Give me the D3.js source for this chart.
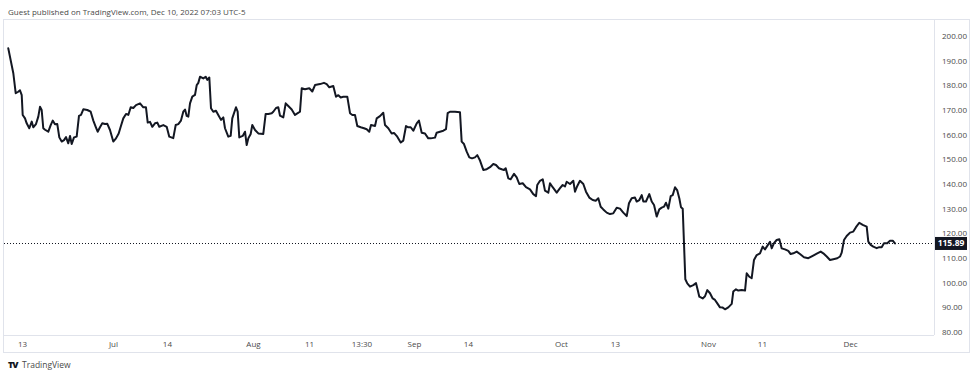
<!DOCTYPE html>
<html>
<head>
<meta charset="utf-8">
<script src="https://cdn.jsdelivr.net/npm/d3@7"></script>
<style>
  html, body { margin: 0; padding: 0; background: #ffffff; }
  svg { display: block; }
  text { font-family: "Open Sans", "Noto Sans", sans-serif; }
</style>
</head>
<body>
<script>
// ---- data (trading-day position since Jun 13, close) ----
const bar = [
  -1.96,-1.24,-0.9,-0.53,-0.29,-0.04,0.1,0.43,0.67,1.04,1.39,1.61,2.0,2.33,2.57,2.81,3.04,3.29,3.76,4.1,4.39,4.71,5.04,5.33,5.67,6.0,6.29,6.61,6.86,7.1,7.43,7.81,
  8.14,8.43,8.76,9.33,9.81,10.19,10.53,10.81,11.14,11.47,11.86,12.19,12.57,13.04,13.43,13.81,14.1,14.47,14.86,15.19,15.53,15.9,16.29,16.86,17.33,17.71,17.96,
  18.29,18.61,19.0,19.33,19.61,20.19,20.67,21.04,21.61,21.96,22.33,22.71,23.04,23.29,23.53,23.76,24.0,24.33,24.71,24.96,25.19,25.43,25.9,26.24,26.47,26.76,
  27.0,27.33,27.71,28.04,28.43,28.76,29.0,29.47,29.81,30.04,30.57,30.81,31.04,31.53,31.86,32.1,32.33,32.67,32.9,33.29,33.76,34.47,34.81,35.19,35.67,35.9,
  36.29,36.61,36.86,37.33,37.67,38.04,38.53,39.0,39.39,39.71,39.96,40.43,41.04,41.47,41.86,42.57,43.14,43.53,43.9,44.47,44.86,45.19,45.53,45.9,46.47,
  46.86,47.19,47.57,47.9,48.39,48.86,49.24,49.61,49.86,50.43,50.67,51.14,51.61,51.86,52.33,52.81,53.14,53.61,54.1,54.47,54.86,55.19,55.53,55.9,56.39,
  56.71,57.1,57.57,58.04,58.39,59.0,59.24,59.71,60.19,60.57,60.81,61.14,61.86,62.57,62.81,63.14,63.53,63.9,64.29,64.71,65.04,65.43,65.9,66.39,66.86,
  67.33,67.71,68.14,68.53,68.86,69.1,69.47,69.81,70.29,70.67,71.04,71.53,72.0,72.57,73.04,73.43,73.61,74.0,74.39,74.71,75.19,75.43,75.81,76.39,76.86,
  77.24,77.57,77.81,78.29,78.76,79.0,79.33,79.71,80.19,80.57,81.04,81.53,81.96,82.33,82.67,83.04,83.53,84.0,84.47,84.96,85.43,85.9,86.39,86.71,87.1,
  87.57,87.81,88.19,88.53,88.76,89.14,89.61,89.96,90.29,90.67,91.04,91.39,91.71,92.0,92.33,92.67,92.96,93.29,93.61,93.9,94.14,94.39,94.57,94.76,95.04,
  95.43,95.9,96.29,96.53,96.76,97.24,97.57,97.9,98.29,98.67,99.0,99.33,99.71,100.1,100.43,100.9,101.39,101.61,102.0,102.33,102.81,103.29,103.53,103.9,
  104.24,104.57,104.96,105.43,105.81,106.14,106.47,106.86,107.1,107.43,107.81,108.19,108.53,109.0,109.47,109.81,110.19,110.67,111.14,111.71,112.33,
  112.96,113.61,114.1,114.47,114.96,115.43,115.9,116.47,116.86,117.1,117.43,117.81,118.29,118.76,119.14,119.61,120.1,120.67,120.9,121.24,121.61,122.1,
  122.47,122.81,123.14,123.61,124.0,124.39,124.71
];
const close = [
  195,184.9,176.8,177.4,178,176,168,166.6,164.6,162.6,165.3,163,164.3,167.3,171.3,170,162.6,162,161.2,163.9,165.7,164.2,164.3,158.9,157.2,157.8,159,156.5,159.5,156.2,158.9,159.2,
  167.6,168,170.3,170,169.3,165.7,163.2,161.2,163,164.6,164.3,164.4,161.9,157.2,158.5,160.5,163.2,166.6,168.4,168,171.1,170.8,172,172.7,171.1,171.1,164.9,
  165.2,163.2,164.6,164.9,163.2,163.9,163.2,159.2,158.6,163.9,164.3,165.7,169.3,170.2,167.6,167.3,172.7,175.4,176.1,180.1,181,183.5,182.8,183.5,182.2,183.2,
  170.7,169.3,169.7,168,166,167,162.6,159.2,159.5,166.6,171.1,169.3,158.9,159.5,161.2,155.8,158.5,160.3,163.9,161.9,160.5,160.3,168.4,168.4,168.7,169.3,
  170.8,171.1,167.7,167,172.7,171.6,170.2,168,168.7,169.3,178.8,178.4,178.8,177.5,180.1,180.5,181,180.5,179.2,179.7,175.4,176,175.1,175.4,175.4,
  168.7,168,168,163.5,163,162.6,162.2,161.2,163.9,163.5,166.6,167.5,168.9,163.9,162.6,160.5,160.7,159.2,156.8,157.6,163.5,163,163,161.6,164.6,
  165.7,160.8,160.5,158.5,158.5,158.8,160.8,161.2,161.6,162.2,168.7,169.3,169.3,169.1,157.2,156.2,153.1,150.8,150.4,150.8,151.7,149.5,145.7,146,146.8,
  148.1,147.7,146.4,146,145.7,146.4,142.3,141.9,144.1,142.7,140,140.3,138.7,137.8,135.9,135.1,139.6,141.3,141.9,137.3,136.5,140.3,138.7,136.5,138.3,
  139.6,139,140.9,140,141.3,136.9,139.2,141.3,140,136.9,134.5,133.5,133.2,134.2,130.8,129.7,128.4,127.8,128.1,130.4,130,128.4,127,132.2,134.2,
  134.5,132.9,133.5,135.5,132.9,132.9,135.9,132.9,131.5,126.8,129.7,130.4,130.8,132.4,130,135.1,135.5,138.7,137.4,134.2,130.6,130,116,101.4,99.7,
  98.4,99,99.8,97,94.3,93.6,94.5,97,95.7,93.6,93,91.6,90,89.9,89.2,90,91.4,96.4,97.3,96.8,97,96.8,103.8,102.4,
  101.8,109.2,111.2,111.9,114.6,113.5,114.9,116.6,113.9,116,117.3,117.6,113.9,113.5,112.9,111.6,111.9,112.6,111.6,110.3,109.9,
  110.9,111.9,112.6,111.9,110.6,109.2,109.5,109.9,110.6,112.2,117.3,118.9,120.3,120.7,122.5,124.3,123.4,122.7,116.6,115.3,114.6,114,
  114.4,114.4,116,116,117,117,115.89
];
const lastPrice = 115.89;
const priceTicks = [80, 90, 100, 110, 120, 130, 140, 150, 160, 170, 180, 190, 200];
const timeTickPos = [0, 13, 20.7, 33, 41, 48.5, 56, 63.7, 77, 84.7, 98, 105.7, 118.3];
const timeTickLabels = ["13", "Jul", "14", "Aug", "11", "13:30", "Sep", "14", "Oct", "13", "Nov", "11", "Dec"];
const headerText = "Guest published on TradingView.com, Dec 10, 2022 07:03 UTC-5";

// ---- layout ----
const W = 978, H = 377;
const frame = { left: 3, top: 19, right: 969, bottom: 352 };
const paneRight = 934, paneBottom = 335;

const svg = d3.select("body").append("svg").attr("width", W).attr("height", H);

const x = d3.scaleLinear().domain([-2, 125]).range([8, 897]);
const y = d3.scaleLinear().domain([80, 200]).range([332, 36]);

// header
svg.append("text").attr("x", 8).attr("y", 15)
  .attr("font-size", 8).attr("fill", "#4a4a4a").text(headerText);

// frame
const lineCol = "#e0e3eb";
svg.append("rect").attr("x", frame.left + 0.5).attr("y", frame.top + 0.5)
  .attr("width", frame.right - frame.left).attr("height", frame.bottom - frame.top)
  .attr("fill", "none").attr("stroke", lineCol);
svg.append("line").attr("x1", paneRight + 0.5).attr("x2", paneRight + 0.5)
  .attr("y1", frame.top).attr("y2", paneBottom).attr("stroke", lineCol);
svg.append("line").attr("x1", frame.left).attr("x2", paneRight)
  .attr("y1", paneBottom + 0.5).attr("y2", paneBottom + 0.5).attr("stroke", lineCol);

// clip for the pane
svg.append("clipPath").attr("id", "pane").append("rect")
  .attr("x", frame.left + 1).attr("y", frame.top + 1)
  .attr("width", paneRight - frame.left - 1).attr("height", paneBottom - frame.top - 1);

// last price dotted line
svg.append("line")
  .attr("x1", frame.left + 1).attr("x2", paneRight)
  .attr("y1", Math.round(y(lastPrice)) + 0.5).attr("y2", Math.round(y(lastPrice)) + 0.5)
  .attr("stroke", "#131722").attr("stroke-width", 1).attr("stroke-dasharray", "1,2");

// series line
const data = bar.map((b, i) => ({ b, v: close[i] }));
const line = d3.line().x(d => x(d.b)).y(d => y(d.v));
svg.append("path").datum(data)
  .attr("clip-path", "url(#pane)")
  .attr("d", line)
  .attr("fill", "none").attr("stroke", "#131722").attr("stroke-width", 2)
  .attr("stroke-linejoin", "round").attr("stroke-linecap", "round");

// price axis
const yAxis = d3.axisRight(y).tickValues(priceTicks).tickSize(0).tickPadding(0)
  .tickFormat(d3.format(".2f"));
const gy = svg.append("g").attr("transform", `translate(${paneRight + 8},0)`).call(yAxis);
gy.select(".domain").remove();
gy.selectAll("text").attr("font-size", 8).attr("fill", "#4a4a4a")
  .attr("font-family", "'Open Sans', 'Noto Sans', sans-serif");

// last price label
const ly = y(lastPrice);
svg.append("rect").attr("x", paneRight + 1).attr("y", ly - 6.5)
  .attr("width", 32).attr("height", 13).attr("fill", "#131722");
svg.append("text").attr("x", paneRight + 17).attr("y", ly).attr("dy", "0.35em")
  .attr("text-anchor", "middle").attr("font-size", 8.5).attr("font-weight", "bold")
  .attr("fill", "#ffffff").text(lastPrice.toFixed(2));

// time axis
const xAxis = d3.axisBottom(x).tickValues(timeTickPos).tickSize(0).tickPadding(0)
  .tickFormat((d, i) => timeTickLabels[i]);
const gx = svg.append("g").attr("transform", `translate(0,${paneBottom + 6})`).call(xAxis);
gx.select(".domain").remove();
gx.selectAll("text").attr("font-size", 8).attr("fill", "#4a4a4a")
  .attr("font-family", "'Open Sans', 'Noto Sans', sans-serif");

// TradingView mark
svg.append("text").attr("x", 8).attr("y", 368)
  .attr("font-size", 9).attr("font-weight", 900).attr("fill", "#131722")
  .attr("letter-spacing", "-1").text("TV");
svg.append("text").attr("x", 22).attr("y", 368)
  .attr("font-size", 8.5).attr("fill", "#4a4a4a").text("TradingView");
</script>
</body>
</html>
